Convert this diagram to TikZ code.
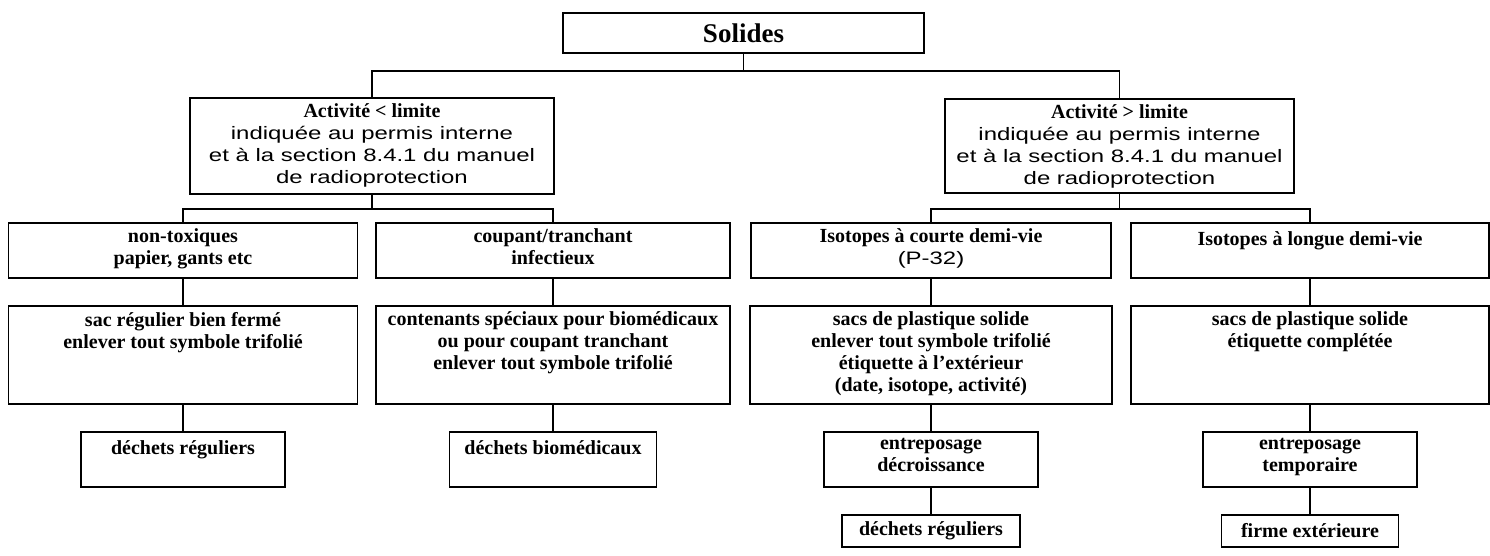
\documentclass[tikz,border=0pt]{standalone}
\usepackage{fontspec}
\setmainfont{Liberation Serif}
\newfontfamily\sansf[FakeStretch=1.33]{Liberation Sans}
\newcommand{\sanstxt}[1]{{\sansf\mdseries\fontsize{18}{22}\selectfont #1}}
\begin{document}
\begin{tikzpicture}[x=1pt,y=-1pt,line width=1.5pt,
  box/.style={draw,rectangle,inner sep=0pt,font=\fontsize{20}{22}\selectfont\bfseries},
  lbl/.style={anchor=north,inner sep=0pt,align=center,yshift=-6pt,font=\fontsize{20}{22}\selectfont\bfseries,execute at begin node={\rule{0pt}{16pt}}},
  elbow/.style={to path={-- ++(0,#1) -| (\tikztotarget)}}]
\useasboundingbox (0,0) rectangle (1490,555);
\node[box,minimum width=361pt,minimum height=40pt,font=\fontsize{27}{30}\selectfont\bfseries] (solides) at (743.5,33) {Solides};
\node[box,minimum width=364pt,minimum height=96pt,label={[lbl]north:Activité < limite\\\sanstxt{indiquée au permis interne}\\\sanstxt{et à la section 8.4.1 du manuel}\\\sanstxt{de radioprotection}}] (actlow) at (372,146) {};
\node[box,minimum width=349pt,minimum height=94pt,label={[lbl]north:Activité > limite\\\sanstxt{indiquée au permis interne}\\\sanstxt{et à la section 8.4.1 du manuel}\\\sanstxt{de radioprotection}}] (acthigh) at (1119.5,146) {};

\node[box,minimum width=349pt,minimum height=55pt,label={[lbl]north:non-toxiques\\papier, gants etc}] (nontox) at (183,250.5) {};
\node[box,minimum width=354pt,minimum height=55pt,label={[lbl]north:coupant/tranchant\\infectieux}] (coupant) at (553,250.5) {};
\node[box,minimum width=360pt,minimum height=55pt,label={[lbl]north:Isotopes à courte demi-vie\\\sanstxt{(P-32)}}] (courte) at (931,250.5) {};
\node[box,minimum width=358pt,minimum height=55pt,label={[lbl]north:Isotopes à longue demi-vie}] (longue) at (1310,250.5) {};

\node[box,minimum width=349pt,minimum height=98pt,label={[lbl]north:sac régulier bien fermé\\enlever tout symbole trifolié}] (sacreg) at (183,355) {};
\node[box,minimum width=354pt,minimum height=98pt,label={[lbl]north:contenants spéciaux pour biomédicaux\\ou pour coupant tranchant\\enlever tout symbole trifolié}] (conten) at (553,355) {};
\node[box,minimum width=362pt,minimum height=98pt,label={[lbl]north:sacs de plastique solide\\enlever tout symbole trifolié\\étiquette à l'extérieur\\(date, isotope, activité)}] (sacsc) at (931,355) {};
\node[box,minimum width=358pt,minimum height=98pt,label={[lbl]north:sacs de plastique solide\\étiquette complétée}] (sacsd) at (1310,355) {};

\node[box,minimum width=204pt,minimum height=55pt,label={[lbl]north:déchets réguliers}] (decreg) at (183,459.5) {};
\node[box,minimum width=207pt,minimum height=55pt,label={[lbl]north:déchets biomédicaux}] (decbio) at (553,459.5) {};
\node[box,minimum width=214pt,minimum height=55pt,label={[lbl]north:entreposage\\décroissance}] (entrc) at (931,459.5) {};
\node[box,minimum width=214pt,minimum height=55pt,label={[lbl]north:entreposage\\temporaire}] (entrd) at (1310,459.5) {};

\node[box,minimum width=178pt,minimum height=32pt] (decregb) at (931,531) {déchets réguliers};
\node[box,minimum width=177pt,minimum height=32pt] (firme) at (1310,531) {firme extérieure};

\draw (solides.south) edge[elbow=17] (actlow.north) edge[elbow=17] (acthigh.north);
\draw (actlow.south) edge[elbow=14] (nontox.north) edge[elbow=14] (coupant.north);
\draw (acthigh.south) edge[elbow=15] (courte.north) edge[elbow=15] (longue.north);
\draw (nontox) edge (sacreg);
\draw (coupant) edge (conten);
\draw (courte) edge (sacsc);
\draw (longue) edge (sacsd);
\draw (sacreg) edge (decreg);
\draw (conten) edge (decbio);
\draw (sacsc) edge (entrc);
\draw (sacsd) edge (entrd);
\draw (entrc) edge (decregb);
\draw (entrd) edge (firme);
\end{tikzpicture}
\end{document}
